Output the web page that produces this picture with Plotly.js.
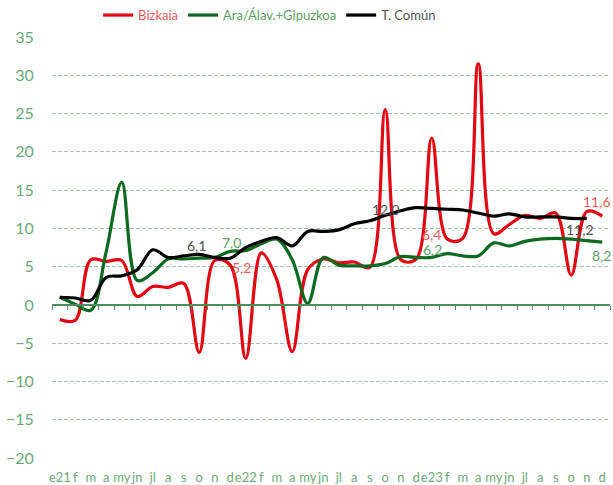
<!DOCTYPE html>
<html>
<head>
<meta charset="utf-8">
<script src="https://cdn.plot.ly/plotly-3.0.1.min.js"></script>
<style>html,body{margin:0;padding:0;background:#fff;}#chart{width:613px;height:485px;}</style>
</head>
<body>
<div id="chart"></div>
<script>
const months = ["e21","f","m","a","my","jn","jl","a","s","o","n","d",
                "e22","f","m","a","my","jn","jl","a","s","o","n","d",
                "e23","f","m","a","my","jn","jl","a","s","o","n","d"];
const bizkaia = [-1.9,-2.0,5.9,5.7,5.8,1.1,2.4,2.3,2.8,-6.2,5.8,5.2,
                 -7.0,6.8,3.3,-6.1,4.6,6.0,5.5,5.6,4.9,25.5,5.9,6.0,
                 21.8,8.6,8.7,31.5,9.3,10.5,11.7,11.3,12.0,3.9,12.2,11.6];
const araGipuzkoa = [1.0,0.1,-0.7,7.0,16.0,3.2,4.2,6.0,6.0,6.1,6.2,7.0,
                     7.1,8.0,8.6,5.9,0.2,6.2,5.2,5.1,5.1,5.4,6.3,6.2,
                     6.2,6.7,6.4,6.4,8.1,7.7,8.3,8.6,8.7,8.6,8.4,8.2];
const tComun = [1.0,0.9,0.6,3.6,3.8,4.6,7.2,6.2,6.4,6.6,6.2,6.1,
                7.5,8.3,8.8,7.7,9.6,9.6,9.8,10.6,11.0,11.7,12.3,12.7,
                12.6,12.5,12.4,12.0,11.6,11.9,11.5,11.5,11.5,11.3,11.3,null];
const labelText = ["6,1","7,0","5,2","12,0","6,4","6,2","11,2","11,6","8,2"];
const labelX = [8.82,11.1,11.74,21.05,24.0,24.08,33.56,34.66,34.92];
const labelY = [7.7,8.2,4.87,12.5,9.14,7.3,9.8,13.45,6.4];
const labelSeries = ["c","a","b","c","b","a","c","b","a"];

const idx = months.map((_, i) => i);
const colors = {b:"#f05a5a", a:"#5a9e6a", c:"#505050"};

const traces = [
  {x: idx, y: bizkaia, name: '<span style="color:#f05a5a">Bizkaia</span>', type:'scatter', mode:'lines',
   line:{color:'#e30613', width:3.2, shape:'spline', smoothing:1}},
  {x: idx, y: araGipuzkoa, name: '<span style="color:#5a9e6a">Ara/Álav.+Gipuzkoa</span>', type:'scatter', mode:'lines',
   line:{color:'#0b6a1f', width:3.2, shape:'spline', smoothing:1}},
  {x: idx, y: tComun, name: '<span style="color:#505050">T. Común</span>', type:'scatter', mode:'lines',
   line:{color:'#000000', width:3.2, shape:'spline', smoothing:1}},
  {x: idx, y: idx.map(() => null), xaxis:'x2', yaxis:'y', showlegend:false, hoverinfo:'skip', type:'scatter', mode:'lines'}
];

const annotations = labelText.map((t, i) => ({
  x: labelX[i], y: labelY[i], xref:'x', yref:'y', text: t, showarrow:false,
  xanchor:'center', yanchor:'middle',
  font:{family:'Lato, sans-serif', size:14, color: colors[labelSeries[i]]}
}));

const layout = {
  width: 613, height: 485,
  margin: {l:52, r:3, t:37, b:27, autoexpand:false},
  paper_bgcolor:'#fff', plot_bgcolor:'#fff',
  font:{family:'Lato, sans-serif'},
  showlegend:true,
  legend:{orientation:'h', x:0.39, xanchor:'center', y:1.052, yanchor:'middle',
          font:{family:'Lato, sans-serif', size:13}, bgcolor:'rgba(0,0,0,0)'},
  xaxis:{range:[-0.5,35.5], tickvals: idx, ticktext: months, tickangle:0, showgrid:false, zeroline:false,
         showline:false, ticks:'', tickfont:{family:'Lato, sans-serif', size:13, color:'#6aaa78'},
         ticklabelstandoff:10, fixedrange:true, automargin:false},
  xaxis2:{range:[-0.5,35.5], overlaying:'x', anchor:'free', position: 20/55, side:'bottom',
          showline:true, linecolor:'#4a8f5a', linewidth:2, ticks:'outside', ticklen:4, tickwidth:1,
          tickcolor:'#4a8f5a', tickvals: idx.concat([36]).map(v => v - 0.5), showticklabels:false,
          showgrid:false, zeroline:false},
  yaxis:{range:[-20,35], dtick:5, tick0:0, showgrid:true, gridcolor:'#9ccaa6', griddash:'4px,2px',
         gridwidth:1, zeroline:false, showline:false, ticks:'outside', ticklen:14, tickcolor:'rgba(0,0,0,0)',
         tickfont:{family:'Lato, sans-serif', size:16, color:'#6aaa78'}, automargin:false},
  annotations: annotations
};

Plotly.newPlot('chart', traces, layout, {staticPlot:true, displayModeBar:false});
</script>
</body>
</html>
